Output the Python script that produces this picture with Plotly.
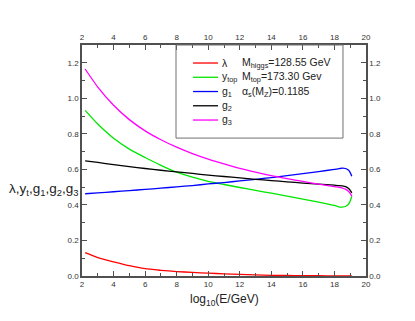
import plotly.graph_objects as go

# log10(E/GeV)
t = [2.2, 3, 4, 5, 6, 7, 8, 9, 10, 11, 12, 13, 14, 15, 16, 17, 18,
     18.3, 18.5, 18.7, 18.9, 19.0, 19.1]

lam = [0.131, 0.103, 0.080, 0.058, 0.041, 0.032, 0.025, 0.020, 0.016, 0.012,
       0.009, 0.006, 0.004, 0.003, 0.002, 0.0015, 0.001, 0.001, 0.001, 0.001,
       0.001, 0.001, 0.001]
ytop = [0.932, 0.855, 0.775, 0.714, 0.667, 0.623, 0.584, 0.556, 0.533, 0.515,
        0.498, 0.482, 0.466, 0.450, 0.433, 0.416, 0.397, 0.388, 0.388, 0.391,
        0.405, 0.422, 0.449]
g1 = [0.463, 0.468, 0.474, 0.481, 0.487, 0.494, 0.502, 0.509, 0.518, 0.526,
      0.535, 0.544, 0.554, 0.565, 0.576, 0.588, 0.600, 0.604, 0.607, 0.605,
      0.595, 0.582, 0.562]
g2 = [0.648, 0.639, 0.627, 0.616, 0.605, 0.595, 0.586, 0.577, 0.568, 0.560,
      0.552, 0.544, 0.537, 0.530, 0.523, 0.517, 0.511, 0.509, 0.507, 0.503,
      0.492, 0.482, 0.468]
g3 = [1.165, 1.063, 0.961, 0.880, 0.817, 0.767, 0.725, 0.689, 0.658, 0.631,
      0.606, 0.585, 0.565, 0.548, 0.532, 0.517, 0.503, 0.499, 0.495, 0.489,
      0.476, 0.465, 0.449]

names = ["λ", "y<sub>top</sub>", "g<sub>1</sub>", "g<sub>2</sub>", "g<sub>3</sub>"]
values = [lam, ytop, g1, g2, g3]
colors = ["#ff0000", "#00e600", "#0000ff", "#000000", "#ff00ff"]

info = ["M<sub>higgs</sub>=128.55 GeV",
        "M<sub>top</sub>=173.30 Gev",
        "α<sub>s</sub>(M<sub>Z</sub>)=0.1185"]

x_range = [2, 20]
y_range = [0, 1.3]

FONT = "Liberation Sans, Arial, sans-serif"
AX = "#505050"
TXT = "#222"

fig = go.Figure()
for name, vals, col in zip(names, values, colors):
    fig.add_trace(go.Scatter(x=t, y=vals, name=name, mode="lines",
                             showlegend=False,
                             line=dict(color=col, width=1.3, shape="spline",
                                       smoothing=0.6)))
# invisible trace to activate the mirrored top/right axes
fig.add_trace(go.Scatter(x=x_range, y=y_range, mode="markers",
                         marker=dict(opacity=0), showlegend=False,
                         hoverinfo="skip", xaxis="x2", yaxis="y2"))

common = dict(showline=True, linecolor=AX, linewidth=1.5, ticks="inside",
              ticklen=5, tickwidth=1, tickcolor=AX, showgrid=False,
              zeroline=False, tickfont=dict(size=8, color="#333", family=FONT),
              minor=dict(ticks="inside", ticklen=3, tickcolor=AX))

fig.update_layout(
    width=415, height=321,
    margin=dict(l=74, r=57, t=37, b=53),
    paper_bgcolor="white", plot_bgcolor="white",
    font=dict(family=FONT, color=TXT),
    showlegend=False,
    xaxis=dict(range=x_range, dtick=2, tick0=0, minor_dtick=1, **common),
    yaxis=dict(range=y_range, dtick=0.2, tick0=0, tickformat=".1f",
               minor_dtick=0.1, **common),
    xaxis2=dict(range=x_range, dtick=2, tick0=0, minor_dtick=1,
                overlaying="x", side="top", **common),
    yaxis2=dict(range=y_range, dtick=0.2, tick0=0, tickformat=".1f",
                minor_dtick=0.1, overlaying="y", side="right", **common),
)

# legend box
fig.add_shape(type="rect", xref="paper", yref="paper",
              x0=0.331, x1=0.919, y0=0.597, y1=1.0,
              line=dict(color="#707070", width=1))

# legend entries (key line + label)
row_y0, row_step = 0.922, 0.0617
for i, (name, col) in enumerate(zip(names, colors)):
    yy = row_y0 - i * row_step
    fig.add_shape(type="line", xref="paper", yref="paper",
                  x0=0.391, x1=0.479, y0=yy, y1=yy,
                  line=dict(color=col, width=1.3))
    fig.add_annotation(text=name, xref="paper", yref="paper",
                       x=0.487, y=yy, xanchor="left", yanchor="middle",
                       showarrow=False,
                       font=dict(size=10.5, family=FONT, color=TXT))

for i, txt in enumerate(info):
    fig.add_annotation(text=txt, xref="paper", yref="paper",
                       x=0.556, y=row_y0 - i * row_step, xanchor="left",
                       yanchor="middle", showarrow=False,
                       font=dict(size=10.5, family=FONT, color=TXT))

fig.add_annotation(text="λ,y<sub>t</sub>,g<sub>1</sub>,g<sub>2</sub>,g<sub>3</sub>",
                   xref="paper", yref="paper", x=-0.006, y=0.375,
                   xanchor="right", yanchor="middle", showarrow=False,
                   font=dict(size=13.5, family=FONT, color=TXT))
fig.add_annotation(text="log<sub>10</sub>(E/GeV)", xref="paper", yref="paper",
                   x=0.5, y=-0.105, xanchor="center", yanchor="middle",
                   showarrow=False,
                   font=dict(size=12, family=FONT, color=TXT))

fig.write_html("out.html")
